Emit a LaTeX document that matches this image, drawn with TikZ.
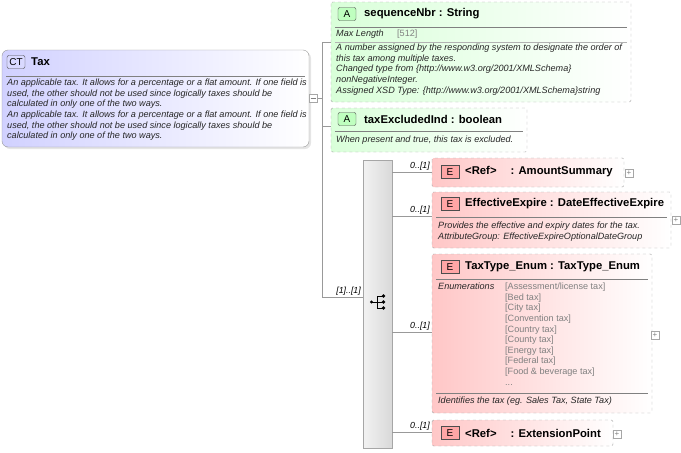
\documentclass[tikz,border=0pt]{standalone}
\usepackage{fontspec}
\setmainfont{Liberation Sans}
\begin{document}
\begin{tikzpicture}[x=1pt,y=-1pt,
 box/.style={draw=gray!70,dashed,rounded corners=1.5pt},
 hdr/.style={anchor=west,font=\fontsize{11.3}{13}\selectfont\bfseries,inner sep=0},
 txt/.style={anchor=north west,font=\fontsize{9.1}{10.6}\selectfont\itshape,inner sep=0,align=left,text=black!85},
 enm/.style={anchor=north west,font=\fontsize{9.1}{10.6}\selectfont,inner sep=0,align=left,text=gray},
 card/.style={anchor=south east,font=\fontsize{8.8}{9}\selectfont\itshape,inner sep=1pt},
 conn/.style={draw=gray!80,line width=0.6pt},
 badge/.style={draw=black!70,rounded corners=2pt,font=\fontsize{10}{11}\selectfont,inner sep=0,minimum width=18pt,minimum height=13pt},
 pl/.style={draw=gray!70,fill=white,minimum size=8pt,inner sep=0,line width=0.4pt,font=\fontsize{8}{8}\selectfont,text=gray}]
\useasboundingbox (0,0) rectangle (681,453);
% Tax
\fill[gray!20,rounded corners=6pt] (4,52) rectangle (311,149);
\shade[left color=blue!18,right color=white,draw=gray!80,rounded corners=6pt] (2,50) rectangle (309,147);
\draw[gray] (6,76)--(305,76);
\node[badge,fill=blue!15] (ctb) at (16,62) {CT};
\node[hdr] (tax) at (31,62) {Tax};
\node[txt] (taxd) at (7,79) {An applicable tax. It allows for a percentage or a flat amount. If one field is\\used, the other should not be used since logically taxes should be\\calculated in only one of the two ways.\\An applicable tax. It allows for a percentage or a flat amount. If one field is\\used, the other should not be used since logically taxes should be\\calculated in only one of the two ways.};
% connectors to attributes
\draw[conn] (309,98)--(322,98);
\draw[conn] (322,42)--(322,297);
\draw[conn] (322,42)--(331,42);
\draw[conn] (322,126)--(331,126);
\draw[conn] (322,297)--(363,297);
\node[pl] (mn) at (313,98) {};
\draw[gray] (310.5,98)--(315.5,98);
% sequenceNbr
\shade[left color=green!15,right color=white,box] (331,2) rectangle (631,102);
\draw[gray] (335,27)--(627,27);
\draw[gray!60] (335,42)--(627,42);
\node[badge,fill=green!25] (a1) at (347,14) {A};
\node[hdr] (seq) at (364,14) {sequenceNbr : String};
\node[txt] (ml) at (336,30) {Max Length};
\node[enm] (mlv) at (397,30) {[512]};
\node[txt] (seqd) at (336,44) {A number assigned by the responding system to designate the order of\\this tax among multiple taxes.\\Changed type from \{http://www.w3.org/2001/XMLSchema\}\\nonNegativeInteger.\\Assigned XSD Type: \{http://www.w3.org/2001/XMLSchema\}string};
% taxExcluded
\shade[left color=green!15,right color=white,box] (331,108) rectangle (527,152);
\draw[gray] (335,131)--(523,131);
\node[badge,fill=green!25] (a2) at (347,119) {A};
\node[hdr] (tei) at (364,119) {taxExcludedInd : boolean};
\node[txt] (teid) at (336,136) {When present and true, this tax is excluded.};
% sequence compartment
\shade[left color=gray!10,right color=gray!30,draw=gray!70] (363,160) rectangle (392,448);
\node[inner sep=0] (seqc) at (378,302) {};
\fill (371.5,302) circle (1.6);
\draw (371.5,302)--(377,302) (377,296)--(377,308);
\foreach \yy in {296,302,308}{\draw (377,\yy)--(383,\yy); \fill (383.5,\yy) circle (1.8);}
\node[card] at (362,297) {[1]..[1]};
% children
\foreach \yy in {172,216,332,432}{\draw[conn] (392,\yy)--(432,\yy); \node[card] at (431,\yy) {0..[1]};}
\tikzset{ebox/.style={box,left color=red!22,right color=white},
 eb/.style={badge,rounded corners=0pt,fill=red!35}}
\shade[ebox] (432,158) rectangle (624,187);
\node[eb] (e1) at (450,172) {E};
\node[hdr] (amt) at (465,172) {<Ref>\hspace{14pt}: AmountSummary};
\node[pl] (p1) at (629,173) {+};
\shade[ebox] (432,192) rectangle (671,248);
\draw[gray] (436,217)--(667,217);
\node[eb] (e2) at (450,204) {E};
\node[hdr] (ee) at (465,204) {EffectiveExpire : DateEffectiveExpire};
\node[txt] (eed) at (438,222) {Provides the effective and expiry dates for the tax.\\AttributeGroup: EffectiveExpireOptionalDateGroup};
\node[pl] (p2) at (676,220) {+};
\shade[ebox] (432,254) rectangle (652,413);
\draw[gray] (436,279)--(648,279);
\draw[gray] (436,393)--(648,393);
\node[eb] (e3) at (450,267) {E};
\node[hdr] (tt) at (465,267) {TaxType\_Enum : TaxType\_Enum};
\node[txt] (en) at (438,283) {Enumerations};
\node[enm] (env) at (505,283) {[Assessment/license tax]\\{}[Bed tax]\\{}[City tax]\\{}[Convention tax]\\{}[Country tax]\\{}[County tax]\\{}[Energy tax]\\{}[Federal tax]\\{}[Food \& beverage tax]\\...};
\node[txt] (ttd) at (438,397) {Identifies the tax (eg. Sales Tax, State Tax)};
\node[pl] (p3) at (655,335) {+};
\shade[ebox] (432,420) rectangle (613,446);
\node[eb] (e4) at (450,433) {E};
\node[hdr] (ext) at (465,433) {<Ref>\hspace{14pt}: ExtensionPoint};
\node[pl] (p4) at (617,434) {+};
\end{tikzpicture}
\end{document}
